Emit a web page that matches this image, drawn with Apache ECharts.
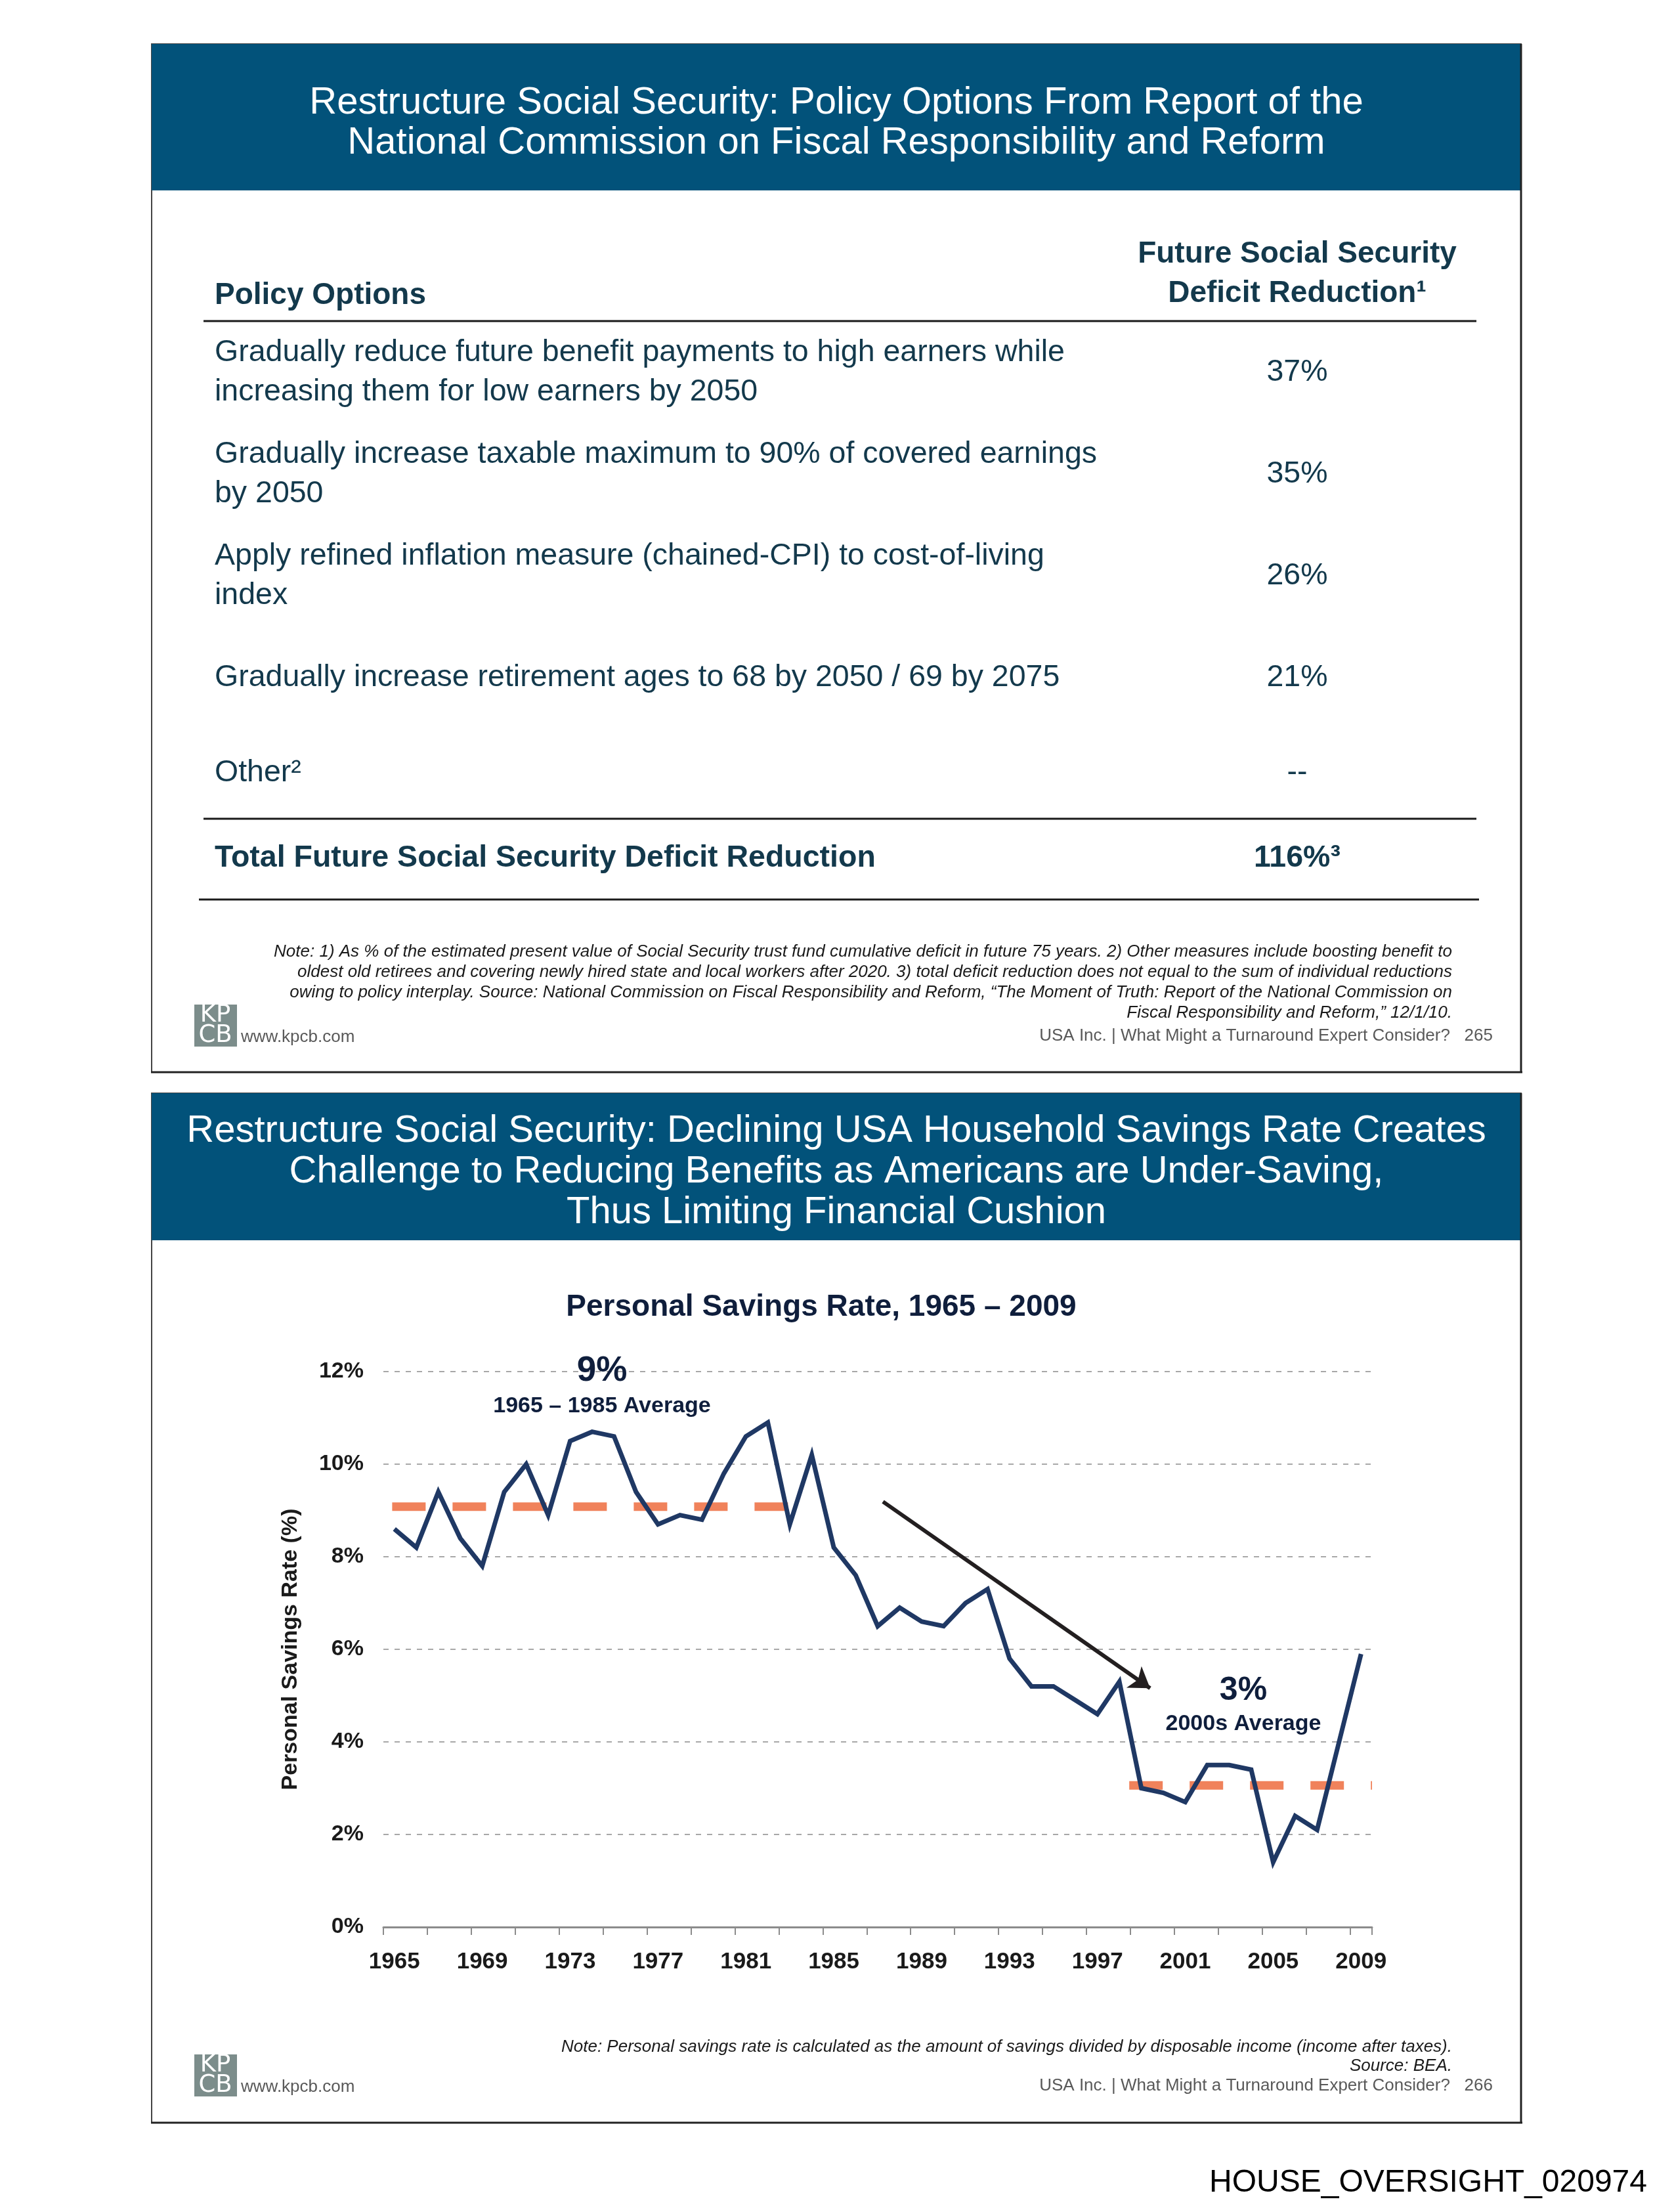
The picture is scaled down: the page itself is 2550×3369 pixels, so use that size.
<!DOCTYPE html>
<html><head><meta charset="utf-8">
<script src="https://cdn.jsdelivr.net/npm/echarts@6/dist/echarts.min.js"></script>
<style>html,body{margin:0;padding:0;background:#fff}#c{width:2550px;height:3369px}</style>
</head><body><div id="c"></div>
<script>
// ---------- DATA ----------
const slide1Title = 'Restructure Social Security: Policy Options From Report of the\nNational Commission on Fiscal Responsibility and Reform';
const slide2Title = 'Restructure Social Security: Declining USA Household Savings Rate Creates\nChallenge to Reducing Benefits as Americans are Under-Saving,\nThus Limiting Financial Cushion';
const tableHeaders = ['Policy Options', 'Future Social Security\nDeficit Reduction¹'];
const policyOptions = [
  'Gradually reduce future benefit payments to high earners while\nincreasing them for low earners by 2050',
  'Gradually increase taxable maximum to 90% of covered earnings\nby 2050',
  'Apply refined inflation measure (chained-CPI) to cost-of-living\nindex',
  'Gradually increase retirement ages to 68 by 2050 / 69 by 2075',
  'Other²'
];
const deficitReduction = ['37%', '35%', '26%', '21%', '--'];
const totalRow = ['Total Future Social Security Deficit Reduction', '116%³'];
const slide1Note = 'Note: 1) As % of the estimated present value of Social Security trust fund cumulative deficit in future 75 years. 2) Other measures include boosting benefit to\noldest old retirees and covering newly hired state and local workers after 2020. 3) total deficit reduction does not equal to the sum of individual reductions\nowing to policy interplay. Source: National Commission on Fiscal Responsibility and Reform, \u201cThe Moment of Truth: Report of the National Commission on\nFiscal Responsibility and Reform,\u201d 12/1/10.';
const slide2Note = 'Note: Personal savings rate is calculated as the amount of savings divided by disposable income (income after taxes).\nSource: BEA.';
const footerText = ['USA Inc. | What Might a Turnaround Expert Consider?   265', 'USA Inc. | What Might a Turnaround Expert Consider?   266'];
const chartTitle = 'Personal Savings Rate, 1965 \u2013 2009';
const yAxisName = 'Personal Savings Rate (%)';

const years = ['1965','1966','1967','1968','1969','1970','1971','1972','1973','1974',
  '1975','1976','1977','1978','1979','1980','1981','1982','1983','1984',
  '1985','1986','1987','1988','1989','1990','1991','1992','1993','1994',
  '1995','1996','1997','1998','1999','2000','2001','2002','2003','2004',
  '2005','2006','2007','2008','2009'];
const savingsRate = [8.6, 8.2, 9.4, 8.4, 7.8, 9.4, 10.0, 8.9, 10.5, 10.7,
  10.6, 9.4, 8.7, 8.9, 8.8, 9.8, 10.6, 10.9, 8.7, 10.2,
  8.2, 7.6, 6.5, 6.9, 6.6, 6.5, 7.0, 7.3, 5.8, 5.2,
  5.2, 4.9, 4.6, 5.3, 3.0, 2.9, 2.7, 3.5, 3.5, 3.4,
  1.4, 2.4, 2.1, 4.0, 5.9];
// averages in [year, value]
const avgEarly = [[1964.9, 9.08], [1984.05, 9.08]];
const avgLate = [[1998.45, 3.06], [2009.5, 3.06]];
const trendArrow = [[1987.24, 9.19], [1999.4, 5.16]];
const annotations = ['9%', '1965 \u2013 1985 Average', '3%', '2000s Average'];
const yTicks = {min: 0, max: 12, interval: 2};

// ---------- LAYOUT ----------
const F = "'Liberation Sans', Arial, Helvetica, sans-serif";
const TXT = '#13394C';
const HEAD = '#02527A';
function txt(text, x, y, size, o) {
  o = o || {};
  return {type: 'text', silent: true, z: 10, style: {
    text: text, x: x, y: y, fill: o.color || '#000',
    font: (o.italic ? 'italic ' : '') + (o.bold ? 'bold ' : '') + size + 'px ' + (o.family || F),
    align: o.align || 'left', verticalAlign: 'middle', lineHeight: o.lh || Math.round(size * 1.2)
  }};
}
function rect(x, y, w, h, style) { return {type: 'rect', silent: true, z: 1, shape: {x: x, y: y, width: w, height: h}, style: style}; }
function line(x1, y1, x2, y2, color, w) { return {type: 'line', silent: true, z: 5, shape: {x1: x1, y1: y1, x2: x2, y2: y2}, style: {stroke: color, lineWidth: w}}; }

const g = [];
function slideFrame(top, bottom, headerBottom) {
  g.push(rect(231, top, 2086, bottom - top, {fill: 'none', stroke: '#444', lineWidth: 2}));
  g.push(line(2317, top, 2317, bottom + 1, '#222', 3));
  g.push(line(230, bottom, 2319, bottom, '#222', 3));
  g.push(rect(231, top, 2086, headerBottom - top, {fill: HEAD}));
}
function footer(dy, idx) {
  g.push(rect(296, 1530 + dy, 65, 64, {fill: '#7C8D8B'}));
  g.push(txt('KP', 328, 1546 + dy, 37, {color: '#fff', align: 'center', family: "'DejaVu Sans ExtraLight','DejaVu Sans',sans-serif"}));
  g.push(txt('CB', 328, 1577 + dy, 37, {color: '#fff', align: 'center', family: "'DejaVu Sans ExtraLight','DejaVu Sans',sans-serif"}));
  g.push(txt('www.kpcb.com', 367, 1580 + dy, 26, {color: '#595959'}));
  g.push(txt(footerText[idx], 2274, 1578 + dy, 26, {color: '#595959', align: 'right'}));
}

// slide 1
slideFrame(67, 1633, 290);
g.push(txt(slide1Title, 1274, 187, 58, {color: '#fff', align: 'center', lh: 61}));
g.push(txt(tableHeaders[0], 327, 450, 46, {color: TXT, bold: true}));
g.push(txt(tableHeaders[1], 1976, 417, 46, {color: TXT, bold: true, align: 'center', lh: 60}));
g.push(line(310, 489, 2249, 489, '#1a1a1a', 3));
const rowY = [567, 722, 877, 1032, 1177];
policyOptions.forEach(function (p, i) {
  g.push(txt(p, 327, rowY[i], 46.5, {color: TXT, lh: 60}));
  g.push(txt(deficitReduction[i], 1976, rowY[i], 46.5, {color: TXT, align: 'center'}));
});
g.push(line(310, 1247, 2249, 1247, '#1a1a1a', 3));
g.push(txt(totalRow[0], 327, 1307, 46.5, {color: TXT, bold: true}));
g.push(txt(totalRow[1], 1976, 1307, 46.5, {color: TXT, bold: true, align: 'center'}));
g.push(line(303, 1370, 2253, 1370, '#1a1a1a', 3));
g.push(txt(slide1Note, 2212, 1496, 26, {color: '#1a1a1a', italic: true, align: 'right', lh: 31}));
footer(0, 0);

// slide 2
slideFrame(1665, 3233, 1889);
g.push(txt(slide2Title, 1274, 1785, 58, {color: '#fff', align: 'center', lh: 62}));
g.push(txt(chartTitle, 1251, 1991, 46, {color: '#0F1E3C', bold: true, align: 'center'}));
g.push(txt(annotations[0], 917, 2088, 53, {color: '#0F1E3C', bold: true, align: 'center'}));
g.push(txt(annotations[1], 917, 2142, 34, {color: '#0F1E3C', bold: true, align: 'center'}));
g.push(txt(annotations[2], 1894, 2575, 50, {color: '#0F1E3C', bold: true, align: 'center'}));
g.push(txt(annotations[3], 1894, 2626, 34, {color: '#0F1E3C', bold: true, align: 'center'}));
g.push(txt(slide2Note, 2212, 3132, 26, {color: '#1a1a1a', italic: true, align: 'right', lh: 29}));
footer(1599, 1);
g.push(txt('HOUSE_OVERSIGHT_020974', 2509, 3325, 48, {color: '#000', align: 'right'}));

const chart = echarts.init(document.getElementById('c'), null, {renderer: 'canvas'});
chart.setOption({
  backgroundColor: '#ffffff',
  animation: false,
  graphic: g,
  grid: {left: 584, right: 460, top: 2089, bottom: 434, containLabel: false},
  xAxis: [
    {type: 'category', data: years, boundaryGap: true,
      axisLine: {lineStyle: {color: '#8C8C8C', width: 3}},
      axisTick: {show: true, interval: 1, length: 12, lineStyle: {color: '#8C8C8C', width: 2}},
      axisLabel: {interval: 3, margin: 36, fontSize: 35, fontWeight: 'bold', color: '#1a1a1a', fontFamily: F},
      splitLine: {show: false}},
    {type: 'value', min: 1964.5, max: 2009.5, show: false, splitLine: {show: false}}
  ],
  yAxis: {type: 'value', min: yTicks.min, max: yTicks.max, interval: yTicks.interval,
    name: yAxisName, nameLocation: 'middle', nameRotate: 90, nameGap: 124,
    nameTextStyle: {fontSize: 34, fontWeight: 'bold', color: '#1a1a1a', fontFamily: F},
    axisLabel: {formatter: '{value}%', margin: 30, fontSize: 34, fontWeight: 'bold', color: '#1a1a1a', fontFamily: F},
    axisLine: {show: false}, axisTick: {show: false},
    splitLine: {lineStyle: {color: '#A8A8A8', width: 2, type: [8, 9]}}},
  series: [
    {type: 'line', name: 'avgEarly', xAxisIndex: 1, data: avgEarly, symbol: 'none', silent: true, z: 2,
      lineStyle: {color: '#F0825B', width: 13, type: [51, 41], cap: 'butt'}},
    {type: 'line', name: 'avgLate', xAxisIndex: 1, data: avgLate, symbol: 'none', silent: true, z: 2,
      lineStyle: {color: '#F0825B', width: 13, type: [51, 41], cap: 'butt'}},
    {type: 'line', name: 'Personal Savings Rate', xAxisIndex: 0, data: savingsRate, symbol: 'none', z: 3,
      lineStyle: {color: '#1F3864', width: 7, join: 'miter', miterLimit: 4}},
    {type: 'lines', coordinateSystem: 'cartesian2d', xAxisIndex: 1, yAxisIndex: 0, silent: true, z: 4,
      data: [{coords: trendArrow}], symbol: ['none', 'arrow'], symbolSize: 30,
      lineStyle: {color: '#231F20', width: 6, opacity: 1, curveness: 0}}
  ]
});
</script></body></html>
